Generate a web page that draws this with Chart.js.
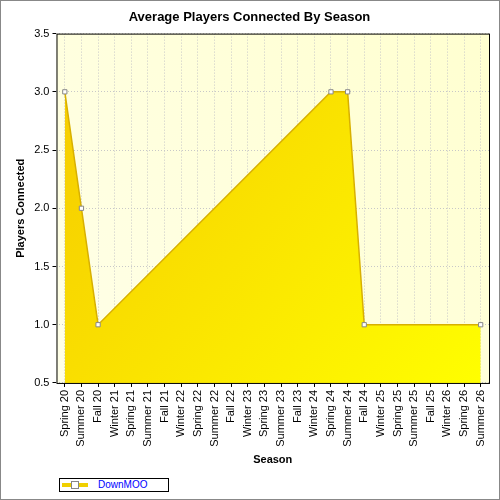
<!DOCTYPE html>
<html><head>
<script src="https://cdn.jsdelivr.net/npm/chart.js@4"></script>
<style>
body{margin:0;background:#fff}
#wrap{position:absolute;left:0;top:0;width:498px;height:498px;border:1px solid #888;}
#legend{position:absolute;left:59px;top:478px;width:108px;height:12px;border:1px solid #000;font:10px "Liberation Sans",sans-serif;color:#00f;}
#legend span{position:absolute;left:38px;top:0px}
#legend i{position:absolute;left:2px;top:4px;width:26px;height:4px;background:#f0d000}
#legend b{position:absolute;left:11px;top:2px;width:6px;height:6px;background:#fff;border:1px solid #888}
</style></head>
<body>
<div id="wrap"><canvas id="c" width="498" height="470"></canvas></div>
<div id="legend"><i></i><b></b><span>DownMOO</span></div>
<script>
// categories and values
var seasons = ['Spring 20','Summer 20','Fall 20','Winter 21','Spring 21','Summer 21','Fall 21','Winter 22','Spring 22','Summer 22','Fall 22','Winter 23','Spring 23','Summer 23','Fall 23','Winter 24','Spring 24','Summer 24','Fall 24','Winter 25','Spring 25','Summer 25','Fall 25','Winter 26','Spring 26','Summer 26'];
var players = [3,2,1,null,null,null,null,null,null,null,null,null,null,null,null,null,3,3,1,null,null,null,null,null,null,1];
var yTicks = [0.5,1.0,1.5,2.0,2.5,3.0,3.5];

var ctx = document.getElementById('c').getContext('2d');
var bgPlugin = {
  id:'bg',
  beforeDraw: function(chart){
    var a = chart.chartArea, g = chart.ctx;
    var gr = g.createLinearGradient(a.left,a.bottom,a.right,a.top);
    gr.addColorStop(0,'#ffffe8'); gr.addColorStop(1,'#ffffd0');
    g.save(); g.fillStyle = gr; g.fillRect(a.left,a.top,a.right-a.left,a.bottom-a.top); g.restore();
  },
  afterDraw: function(chart){
    var a = chart.chartArea, g = chart.ctx;
    g.save(); g.strokeStyle='#000'; g.lineWidth=1;
    g.strokeRect(a.left+0.5,a.top+0.5,a.right-a.left,a.bottom-a.top); g.restore();
  }
};
new Chart(ctx, {
  type:'line',
  data:{labels:seasons, datasets:[{
    label:'DownMOO', data:players, spanGaps:true,
    borderColor:'#d8b000', borderWidth:1.5, tension:0,
    fill:'start',
    backgroundColor:function(c){
      var a = c.chart.chartArea; if(!a) return '#ffe000';
      var gr = c.chart.ctx.createLinearGradient(a.left,a.top,a.right,a.bottom);
      gr.addColorStop(0,'#f5c800'); gr.addColorStop(1,'#ffff00'); return gr;
    },
    pointStyle:'rect', pointRadius:3, pointBackgroundColor:'#fff', pointBorderColor:'#888', pointBorderWidth:1
  }]},
  options:{
    animation:false, responsive:false,
    layout:{padding:{left:9,right:10,top:0}},
    plugins:{legend:{display:false}, tooltip:{enabled:false},
      title:{display:true,text:'Average Players Connected By Season',color:'#000',font:{family:'Liberation Sans',size:13,weight:'bold'},padding:{top:9,bottom:8}}},
    scales:{
      x:{offset:true, grid:{color:'#c8c8c8',offset:false,tickLength:4,tickColor:'#000'},
        border:{display:false,dash:[1,2]},
        ticks:{color:'#000',font:{family:'Liberation Sans',size:11},maxRotation:90,minRotation:90,autoSkip:false},
        title:{display:true,text:'Season',color:'#000',font:{family:'Liberation Sans',size:11,weight:'bold'}}},
      y:{min:0.5,max:3.5, afterBuildTicks:function(s){s.ticks=yTicks.map(function(v){return {value:v};});},
        grid:{color:'#c8c8c8',tickLength:4,tickColor:'#000'}, border:{display:false,dash:[1,2]},
        ticks:{color:'#000',font:{family:'Liberation Sans',size:11},callback:function(v){return v.toFixed(1);}},
        title:{display:true,text:'Players Connected',color:'#000',font:{family:'Liberation Sans',size:11,weight:'bold'}}}
    }
  },
  plugins:[bgPlugin]
});
</script>
</body></html>
